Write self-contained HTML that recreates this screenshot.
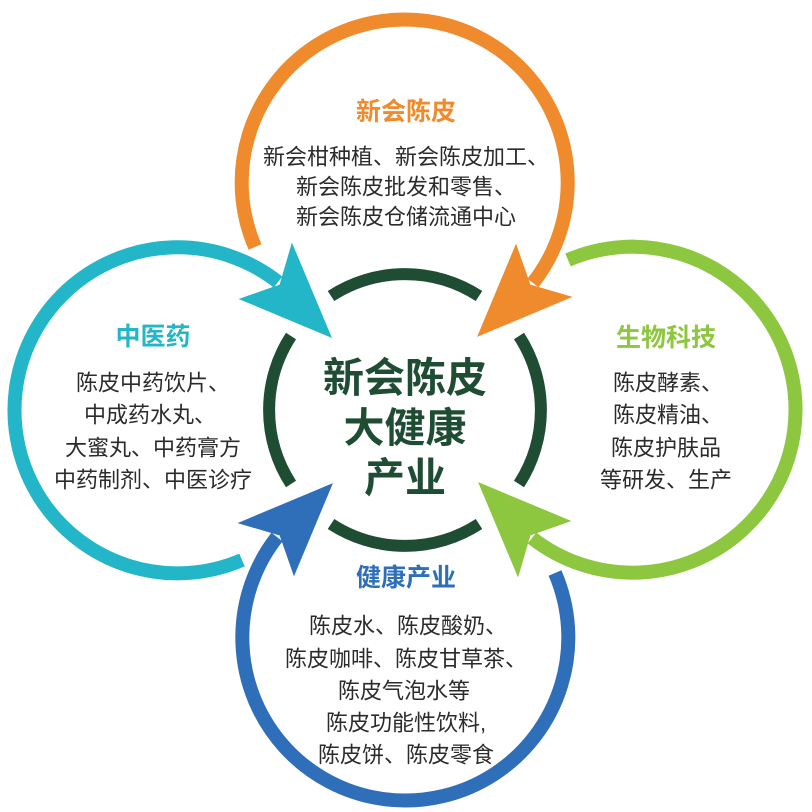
<!DOCTYPE html>
<html><head><meta charset="utf-8"><style>
html,body{margin:0;padding:0;background:#fff;}
svg{display:block;}
text{font-family:"Liberation Sans","Noto Sans CJK SC",sans-serif;text-anchor:middle;dominant-baseline:central;}
.b{font-size:22px;fill:#2b2b2b;}
.t{font-size:25px;font-weight:bold;}
.c{font-size:41px;font-weight:bold;fill:#1f4d34;}
</style></head><body>
<svg width="812" height="812" viewBox="0 0 812 812" xmlns="http://www.w3.org/2000/svg">
<defs>
<g id="arm">
<path d="M255,247 A163,163 0 1 1 533,283" fill="none" stroke-width="14"/>
<polygon points="478,336 516,245 530,285 571,297"/>
</g>
</defs>
<use href="#arm" stroke="#ef8b2c" fill="#ef8b2c"/>
<use href="#arm" stroke="#8dc63f" fill="#8dc63f" transform="rotate(90 405 410)"/>
<use href="#arm" stroke="#2f6fba" fill="#2f6fba" transform="rotate(180 405 410)"/>
<use href="#arm" stroke="#23b5c8" fill="#23b5c8" transform="rotate(270 405 410)"/>
<g fill="none" stroke="#1f4d34" stroke-width="12">
<path d="M331,296 A136,136 0 0 1 479,296"/>
<path d="M519,336 A136,136 0 0 1 519,484"/>
<path d="M479,524 A136,136 0 0 1 331,524"/>
<path d="M291,484 A136,136 0 0 1 291,336"/>
</g>
<text class="c" x="405" y="378">新会陈皮</text>
<text class="c" x="405" y="428">大健康</text>
<text class="c" x="405" y="478">产业</text>

<text class="t" x="406" y="112" fill="#ef8b2c">新会陈皮</text>
<text class="b" x="406" y="157">新会柑种植、新会陈皮加工、</text>
<text class="b" x="406" y="187">新会陈皮批发和零售、</text>
<text class="b" x="406" y="217">新会陈皮仓储流通中心</text>

<text class="t" x="153" y="337" fill="#23b5c8">中医药</text>
<text class="b" x="153" y="383">陈皮中药饮片、</text>
<text class="b" x="150" y="415">中成药水丸、</text>
<text class="b" x="153" y="448">大蜜丸、中药膏方</text>
<text class="b" x="153" y="480">中药制剂、中医诊疗</text>

<text class="t" x="666" y="338" fill="#8dc63f">生物科技</text>
<text class="b" x="668" y="383">陈皮酵素、</text>
<text class="b" x="668" y="415">陈皮精油、</text>
<text class="b" x="666" y="448">陈皮护肤品</text>
<text class="b" x="666" y="480">等研发、生产</text>

<text class="t" x="406" y="578" fill="#2f6fba">健康产业</text>
<text class="b" x="408" y="626">陈皮水、陈皮酸奶、</text>
<text class="b" x="406" y="659">陈皮咖啡、陈皮甘草茶、</text>
<text class="b" x="404" y="691">陈皮气泡水等</text>
<text class="b" x="406" y="723">陈皮功能性饮料,</text>
<text class="b" x="406" y="755">陈皮饼、陈皮零食</text>
</svg>
</body></html>
